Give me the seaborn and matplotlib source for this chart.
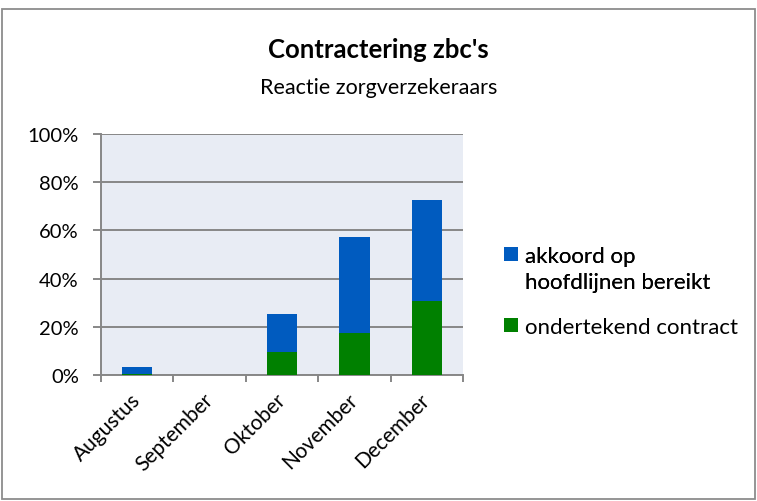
import numpy as np
import pandas as pd
import matplotlib
matplotlib.use('Agg')
import matplotlib.pyplot as plt
import seaborn as sns
from matplotlib.patches import Patch, Rectangle

# Data (percent)
months = ['Augustus', 'September', 'Oktober', 'November', 'December']
ondertekend = [0.5, 0.0, 9.4, 17.4, 30.6]
akkoord = [2.7, 0.0, 15.8, 39.9, 41.9]

blue = '#005BBF'
green = '#008000'
grid_col = '#878787'

sns.set_theme(style='white')
plt.rcParams['font.family'] = ['Lato', 'DejaVu Sans']
plt.rcParams['text.color'] = 'black'

df = pd.DataFrame({'month': months, 'ondertekend': ondertekend, 'akkoord': akkoord})
df['totaal'] = df['ondertekend'] + df['akkoord']

fig = plt.figure(figsize=(7.57, 5.02), dpi=100)
ax = fig.add_axes([0.1334, 0.251, 0.4782, 0.48])

ax.set_facecolor('#E8ECF4')
sns.barplot(data=df, x='month', y='totaal', color=blue, width=0.42, saturation=1,
            linewidth=0, ax=ax, zorder=3)
sns.barplot(data=df, x='month', y='ondertekend', color=green, width=0.42, saturation=1,
            linewidth=0, ax=ax, zorder=4)

ax.set_xlim(-0.5, 4.5)
ax.set_ylim(0, 100)
ax.set_yticks(np.arange(0, 101, 20))
ax.set_yticklabels([f'{v}%' for v in range(0, 101, 20)], fontsize=14.5, color='black')
ax.yaxis.grid(True, color=grid_col, linewidth=1.4, zorder=1)
ax.set_axisbelow(True)

# x ticks between categories, labels at centres
ax.set_xticks(np.arange(5))
ax.set_xticklabels(months, rotation=45, ha='right', va='center', rotation_mode='anchor',
                   fontsize=15, color='black')
ax.set_xticks(np.arange(-0.5, 5, 1), minor=True)
ax.tick_params(axis='x', which='major', length=0, pad=15)
ax.tick_params(axis='x', which='minor', length=5, width=1.4, color=grid_col, direction='out', bottom=True)
ax.tick_params(axis='y', length=6, width=1.4, color=grid_col, direction='out', left=True, pad=10)
ax.set_xlabel('')
ax.set_ylabel('')

for s in ['top', 'right']:
    ax.spines[s].set_visible(False)
for s in ['left', 'bottom']:
    ax.spines[s].set_color(grid_col)
    ax.spines[s].set_linewidth(1.4)

fig.text(0.5, 0.9, "Contractering zbc's", ha='center', va='center', fontsize=18.5, fontweight='bold')
fig.text(0.5, 0.825, 'Reactie zorgverzekeraars', ha='center', va='center', fontsize=15.5)

# legend: blue entry wraps over two lines, handle next to the first line
leg_kw = dict(loc='center left', frameon=False, fontsize=16, handlelength=0.63,
              handleheight=0.63, handletextpad=0.3, borderpad=0, borderaxespad=0)
leg1 = fig.legend([Patch(facecolor=blue, edgecolor='none'), Patch(facecolor='none', edgecolor='none')],
                  ['akkoord op', 'hoofdlijnen bereikt'], bbox_to_anchor=(0.666, 0.462),
                  labelspacing=0.3, **leg_kw)
fig.legend([Patch(facecolor=green, edgecolor='none')], ['ondertekend contract'],
           bbox_to_anchor=(0.666, 0.347), **leg_kw)
fig.add_artist(leg1)

# outer chart border
fig.add_artist(Rectangle((0.003, 0.003), 0.994, 0.977, transform=fig.transFigure,
                         fill=False, edgecolor='#8C8C8C', linewidth=1.3))

fig.savefig('out.png', dpi=100)
